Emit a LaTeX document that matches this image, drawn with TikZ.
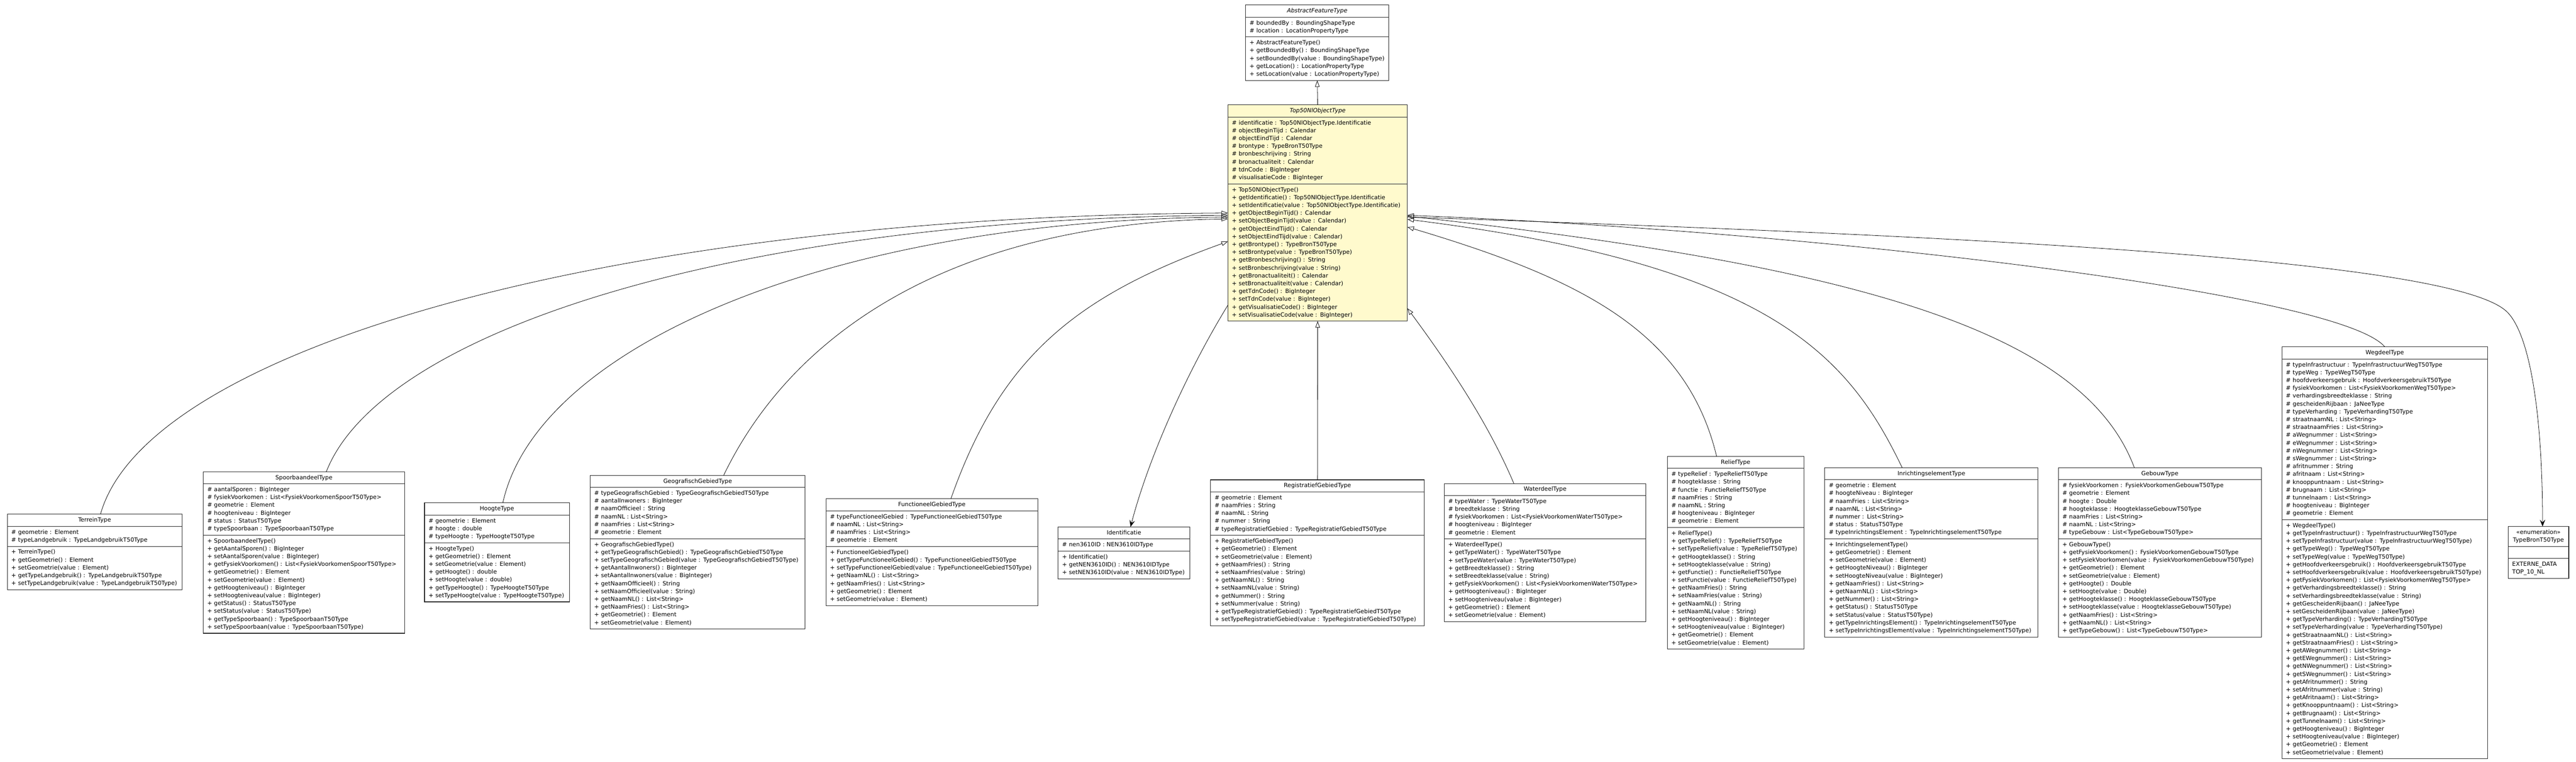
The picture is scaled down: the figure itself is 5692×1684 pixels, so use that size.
\documentclass[tikz,border=0pt]{standalone}
\usepackage{fontspec}
\setmainfont{DejaVu Sans}
\usetikzlibrary{shapes.multipart,arrows.meta}
\definecolor{chiffon}{HTML}{FFFACD}
\newcommand{\umlfont}{\fontsize{12.8pt}{17.3pt}\selectfont}
\newcommand{\classname}[1]{\makebox[\hsize]{\strut#1}}
\newcommand{\compartment}[1]{\begin{tabular}{@{}l@{}}#1\end{tabular}}
\setlength{\parindent}{0pt}
\tikzset{>=latex,
  umlclass/.style={rectangle split, rectangle split parts=3, draw=black!85, line width=1.2pt, fill=white,
    anchor=north west, inner xsep=9pt, inner ysep=4.15pt, outer sep=0pt, font=\umlfont},
  gen/.style={-{Triangle[open,length=14pt,width=10pt]}, line width=0.9pt},
  assoc/.style={-{Stealth[length=15pt,width=12pt,inset=6pt]}, line width=0.9pt}}

\begin{document}
\begin{tikzpicture}[x=1pt,y=-1pt]
  \path[use as bounding box, fill=white] (0,0) rectangle (5692,1684);

  \node[umlclass, text width=299pt] (abstractfeature) at (2752,11) {\classname{\textit{AbstractFeatureType}}
    \nodepart{two}\compartment{\# boundedBy : BoundingShapeType\\\# location : LocationPropertyType}
    \nodepart{three}\compartment{+ AbstractFeatureType()\\+ getBoundedBy() : BoundingShapeType\\+ setBoundedBy(value : BoundingShapeType)\\+ getLocation() : LocationPropertyType\\+ setLocation(value : LocationPropertyType)}};

  \node[umlclass, fill=chiffon, text width=379pt] (top50) at (2713,232) {\classname{\textit{Top50NlObjectType}}
    \nodepart{two}\compartment{\# identificatie : Top50NlObjectType.Identificatie\\\# objectBeginTijd : Calendar\\\# objectEindTijd : Calendar\\\# brontype : TypeBronT50Type\\\# bronbeschrijving : String\\\# bronactualiteit : Calendar\\\# tdnCode : BigInteger\\\# visualisatieCode : BigInteger}
    \nodepart{three}\compartment{+ Top50NlObjectType()\\+ getIdentificatie() : Top50NlObjectType.Identificatie\\+ setIdentificatie(value : Top50NlObjectType.Identificatie)\\+ getObjectBeginTijd() : Calendar\\+ setObjectBeginTijd(value : Calendar)\\+ getObjectEindTijd() : Calendar\\+ setObjectEindTijd(value : Calendar)\\+ getBrontype() : TypeBronT50Type\\+ setBrontype(value : TypeBronT50Type)\\+ getBronbeschrijving() : String\\+ setBronbeschrijving(value : String)\\+ getBronactualiteit() : Calendar\\+ setBronactualiteit(value : Calendar)\\+ getTdnCode() : BigInteger\\+ setTdnCode(value : BigInteger)\\+ getVisualisatieCode() : BigInteger\\+ setVisualisatieCode(value : BigInteger)}};

  \node[umlclass, text width=368pt] (terrein) at (16,1137) {\classname{TerreinType}
    \nodepart{two}\compartment{\# geometrie : Element\\\# typeLandgebruik : TypeLandgebruikT50Type}
    \nodepart{three}\compartment{+ TerreinType()\\+ getGeometrie() : Element\\+ setGeometrie(value : Element)\\+ getTypeLandgebruik() : TypeLandgebruikT50Type\\+ setTypeLandgebruik(value : TypeLandgebruikT50Type)}};

  \node[umlclass, text width=427pt] (spoorbaandeel) at (449,1043) {\classname{SpoorbaandeelType}
    \nodepart{two}\compartment{\# aantalSporen : BigInteger\\\# fysiekVoorkomen : List<FysiekVoorkomenSpoorT50Type>\\\# geometrie : Element\\\# hoogteniveau : BigInteger\\\# status : StatusT50Type\\\# typeSpoorbaan : TypeSpoorbaanT50Type}
    \nodepart{three}\compartment{+ SpoorbaandeelType()\\+ getAantalSporen() : BigInteger\\+ setAantalSporen(value : BigInteger)\\+ getFysiekVoorkomen() : List<FysiekVoorkomenSpoorT50Type>\\+ getGeometrie() : Element\\+ setGeometrie(value : Element)\\+ getHoogteniveau() : BigInteger\\+ setHoogteniveau(value : BigInteger)\\+ getStatus() : StatusT50Type\\+ setStatus(value : StatusT50Type)\\+ getTypeSpoorbaan() : TypeSpoorbaanT50Type\\+ setTypeSpoorbaan(value : TypeSpoorbaanT50Type)}};

  \node[umlclass, text width=302pt] (hoogte) at (938,1112) {\classname{HoogteType}
    \nodepart{two}\compartment{\# geometrie : Element\\\# hoogte : double\\\# typeHoogte : TypeHoogteT50Type}
    \nodepart{three}\compartment{+ HoogteType()\\+ getGeometrie() : Element\\+ setGeometrie(value : Element)\\+ getHoogte() : double\\+ setHoogte(value : double)\\+ getTypeHoogte() : TypeHoogteT50Type\\+ setTypeHoogte(value : TypeHoogteT50Type)}};

  \node[umlclass, text width=457pt] (geografisch) at (1304,1051) {\classname{GeografischGebiedType}
    \nodepart{two}\compartment{\# typeGeografischGebied : TypeGeografischGebiedT50Type\\\# aantalInwoners : BigInteger\\\# naamOfficieel : String\\\# naamNL : List<String>\\\# naamFries : List<String>\\\# geometrie : Element}
    \nodepart{three}\compartment{+ GeografischGebiedType()\\+ getTypeGeografischGebied() : TypeGeografischGebiedT50Type\\+ setTypeGeografischGebied(value : TypeGeografischGebiedT50Type)\\+ getAantalInwoners() : BigInteger\\+ setAantalInwoners(value : BigInteger)\\+ getNaamOfficieel() : String\\+ setNaamOfficieel(value : String)\\+ getNaamNL() : List<String>\\+ getNaamFries() : List<String>\\+ getGeometrie() : Element\\+ setGeometrie(value : Element)}};

  \node[umlclass, text width=450pt] (functioneel) at (1825,1103) {\classname{FunctioneelGebiedType}
    \nodepart{two}\compartment{\# typeFunctioneelGebied : TypeFunctioneelGebiedT50Type\\\# naamNL : List<String>\\\# naamFries : List<String>\\\# geometrie : Element}
    \nodepart{three}\compartment{+ FunctioneelGebiedType()\\+ getTypeFunctioneelGebied() : TypeFunctioneelGebiedT50Type\\+ setTypeFunctioneelGebied(value : TypeFunctioneelGebiedT50Type)\\+ getNaamNL() : List<String>\\+ getNaamFries() : List<String>\\+ getGeometrie() : Element\\+ setGeometrie(value : Element)}};

  \node[umlclass, text width=273pt] (identificatie) at (2338,1165) {\classname{Identificatie}
    \nodepart{two}\compartment{\# nen3610ID : NEN3610IDType}
    \nodepart{three}\compartment{+ Identificatie()\\+ getNEN3610ID() : NEN3610IDType\\+ setNEN3610ID(value : NEN3610IDType)}};

  \node[umlclass, text width=454pt] (registratief) at (2675,1061) {\classname{RegistratiefGebiedType}
    \nodepart{two}\compartment{\# geometrie : Element\\\# naamFries : String\\\# naamNL : String\\\# nummer : String\\\# typeRegistratiefGebied : TypeRegistratiefGebiedT50Type}
    \nodepart{three}\compartment{+ RegistratiefGebiedType()\\+ getGeometrie() : Element\\+ setGeometrie(value : Element)\\+ getNaamFries() : String\\+ setNaamFries(value : String)\\+ getNaamNL() : String\\+ setNaamNL(value : String)\\+ getNummer() : String\\+ setNummer(value : String)\\+ getTypeRegistratiefGebied() : TypeRegistratiefGebiedT50Type\\+ setTypeRegistratiefGebied(value : TypeRegistratiefGebiedT50Type)}};

  \node[umlclass, text width=428pt] (waterdeel) at (3191,1069) {\classname{WaterdeelType}
    \nodepart{two}\compartment{\# typeWater : TypeWaterT50Type\\\# breedteklasse : String\\\# fysiekVoorkomen : List<FysiekVoorkomenWaterT50Type>\\\# hoogteniveau : BigInteger\\\# geometrie : Element}
    \nodepart{three}\compartment{+ WaterdeelType()\\+ getTypeWater() : TypeWaterT50Type\\+ setTypeWater(value : TypeWaterT50Type)\\+ getBreedteklasse() : String\\+ setBreedteklasse(value : String)\\+ getFysiekVoorkomen() : List<FysiekVoorkomenWaterT50Type>\\+ getHoogteniveau() : BigInteger\\+ setHoogteniveau(value : BigInteger)\\+ getGeometrie() : Element\\+ setGeometrie(value : Element)}};

  \node[umlclass, text width=284pt] (relief) at (3684,1009) {\classname{ReliefType}
    \nodepart{two}\compartment{\# typeRelief : TypeReliefT50Type\\\# hoogteklasse : String\\\# functie : FunctieReliefT50Type\\\# naamFries : String\\\# naamNL : String\\\# hoogteniveau : BigInteger\\\# geometrie : Element}
    \nodepart{three}\compartment{+ ReliefType()\\+ getTypeRelief() : TypeReliefT50Type\\+ setTypeRelief(value : TypeReliefT50Type)\\+ getHoogteklasse() : String\\+ setHoogteklasse(value : String)\\+ getFunctie() : FunctieReliefT50Type\\+ setFunctie(value : FunctieReliefT50Type)\\+ getNaamFries() : String\\+ setNaamFries(value : String)\\+ getNaamNL() : String\\+ setNaamNL(value : String)\\+ getHoogteniveau() : BigInteger\\+ setHoogteniveau(value : BigInteger)\\+ getGeometrie() : Element\\+ setGeometrie(value : Element)}};

  \node[umlclass, text width=453pt] (inrichting) at (4032,1034) {\classname{InrichtingselementType}
    \nodepart{two}\compartment{\# geometrie : Element\\\# hoogteNiveau : BigInteger\\\# naamFries : List<String>\\\# naamNL : List<String>\\\# nummer : List<String>\\\# status : StatusT50Type\\\# typeInrichtingsElement : TypeInrichtingselementT50Type}
    \nodepart{three}\compartment{+ InrichtingselementType()\\+ getGeometrie() : Element\\+ setGeometrie(value : Element)\\+ getHoogteNiveau() : BigInteger\\+ setHoogteNiveau(value : BigInteger)\\+ getNaamFries() : List<String>\\+ getNaamNL() : List<String>\\+ getNummer() : List<String>\\+ getStatus() : StatusT50Type\\+ setStatus(value : StatusT50Type)\\+ getTypeInrichtingsElement() : TypeInrichtingselementT50Type\\+ setTypeInrichtingsElement(value : TypeInrichtingselementT50Type)}};

  \node[umlclass, text width=431pt] (gebouw) at (4548,1034) {\classname{GebouwType}
    \nodepart{two}\compartment{\# fysiekVoorkomen : FysiekVoorkomenGebouwT50Type\\\# geometrie : Element\\\# hoogte : Double\\\# hoogteklasse : HoogteklasseGebouwT50Type\\\# naamFries : List<String>\\\# naamNL : List<String>\\\# typeGebouw : List<TypeGebouwT50Type>}
    \nodepart{three}\compartment{+ GebouwType()\\+ getFysiekVoorkomen() : FysiekVoorkomenGebouwT50Type\\+ setFysiekVoorkomen(value : FysiekVoorkomenGebouwT50Type)\\+ getGeometrie() : Element\\+ setGeometrie(value : Element)\\+ getHoogte() : Double\\+ setHoogte(value : Double)\\+ getHoogteklasse() : HoogteklasseGebouwT50Type\\+ setHoogteklasse(value : HoogteklasseGebouwT50Type)\\+ getNaamFries() : List<String>\\+ getNaamNL() : List<String>\\+ getTypeGebouw() : List<TypeGebouwT50Type>}};

  \node[umlclass, text width=437pt] (wegdeel) at (5042,767) {\classname{WegdeelType}
    \nodepart{two}\compartment{\# typeInfrastructuur : TypeInfrastructuurWegT50Type\\\# typeWeg : TypeWegT50Type\\\# hoofdverkeersgebruik : HoofdverkeersgebruikT50Type\\\# fysiekVoorkomen : List<FysiekVoorkomenWegT50Type>\\\# verhardingsbreedteklasse : String\\\# gescheidenRijbaan : JaNeeType\\\# typeVerharding : TypeVerhardingT50Type\\\# straatnaamNL : List<String>\\\# straatnaamFries : List<String>\\\# aWegnummer : List<String>\\\# eWegnummer : List<String>\\\# nWegnummer : List<String>\\\# sWegnummer : List<String>\\\# afritnummer : String\\\# afritnaam : List<String>\\\# knooppuntnaam : List<String>\\\# brugnaam : List<String>\\\# tunnelnaam : List<String>\\\# hoogteniveau : BigInteger\\\# geometrie : Element}
    \nodepart{three}\compartment{+ WegdeelType()\\+ getTypeInfrastructuur() : TypeInfrastructuurWegT50Type\\+ setTypeInfrastructuur(value : TypeInfrastructuurWegT50Type)\\+ getTypeWeg() : TypeWegT50Type\\+ setTypeWeg(value : TypeWegT50Type)\\+ getHoofdverkeersgebruik() : HoofdverkeersgebruikT50Type\\+ setHoofdverkeersgebruik(value : HoofdverkeersgebruikT50Type)\\+ getFysiekVoorkomen() : List<FysiekVoorkomenWegT50Type>\\+ getVerhardingsbreedteklasse() : String\\+ setVerhardingsbreedteklasse(value : String)\\+ getGescheidenRijbaan() : JaNeeType\\+ setGescheidenRijbaan(value : JaNeeType)\\+ getTypeVerharding() : TypeVerhardingT50Type\\+ setTypeVerharding(value : TypeVerhardingT50Type)\\+ getStraatnaamNL() : List<String>\\+ getStraatnaamFries() : List<String>\\+ getAWegnummer() : List<String>\\+ getEWegnummer() : List<String>\\+ getNWegnummer() : List<String>\\+ getSWegnummer() : List<String>\\+ getAfritnummer() : String\\+ setAfritnummer(value : String)\\+ getAfritnaam() : List<String>\\+ getKnooppuntnaam() : List<String>\\+ getBrugnaam() : List<String>\\+ getTunnelnaam() : List<String>\\+ getHoogteniveau() : BigInteger\\+ setHoogteniveau(value : BigInteger)\\+ getGeometrie() : Element\\+ setGeometrie(value : Element)}};

  \node[umlclass, text width=116pt] (typebron) at (5542,1164) {\makebox[\hsize]{\begin{tabular}{@{}c@{}}«enumeration»\\TypeBronT50Type\end{tabular}}
    \nodepart{two}\compartment{\mbox{}}
    \nodepart{three}\compartment{EXTERNE\_DATA\\TOP\_10\_NL}};

  \draw[gen] (top50.north) -- (abstractfeature.south);
  \draw[gen] (registratief.north) -- (top50.south);
  \draw[gen] ([xshift=206pt]terrein.north west) .. controls +(102,-364) and +(-1370,8) .. ([yshift=-239pt]top50.north west);
  \draw[gen] ([xshift=272pt]spoorbaandeel.north west) .. controls +(121,-310) and +(-1096,8) .. ([yshift=-244pt]top50.north west);
  \draw[gen] ([xshift=173pt]hoogte.north west) .. controls +(76,-345) and +(-881,8) .. ([yshift=-248pt]top50.north west);
  \draw[gen] ([xshift=295pt]geografisch.north west) .. controls +(150,-312) and +(-613,10) .. ([yshift=-252pt]top50.north west);
  \draw[gen] ([xshift=276pt]functioneel.north west) .. controls +(110,-313) and +(-337,121) .. ([yshift=-302pt]top50.north west);
  \draw[assoc] ([yshift=-443pt]top50.north west) .. controls +(-92,150) and +(39,-150) .. ([xshift=160pt]identificatie.north west);
  \draw[gen] ([xshift=154pt]waterdeel.north west) .. controls +(-55,-130) and +(96,130) .. ([yshift=-450pt]top50.north east);
  \draw[gen] ([xshift=109pt]relief.north west) .. controls +(-67,-280) and +(375,112) .. ([yshift=-270pt]top50.north east);
  \draw[gen] ([xshift=171pt]inrichting.north west) .. controls +(-120,-250) and +(800,100) .. ([yshift=-253pt]top50.north east);
  \draw[gen] ([xshift=168pt]gebouw.north west) .. controls +(-112,-300) and +(1000,110) .. ([yshift=-246pt]top50.north east);
  \draw[gen] (wegdeel.north) .. controls +(-100,-120) and +(900,35) .. ([yshift=-244pt]top50.north east);
  \coordinate (bend) at (5540,690);
  \draw[assoc] ([yshift=-248pt]top50.north east) .. controls +(1189,40) and +(-120,-120) .. (bend) .. controls +(50,50) and +(0,-250) .. ([xshift=76pt]typebron.north west);
\end{tikzpicture}
\end{document}
